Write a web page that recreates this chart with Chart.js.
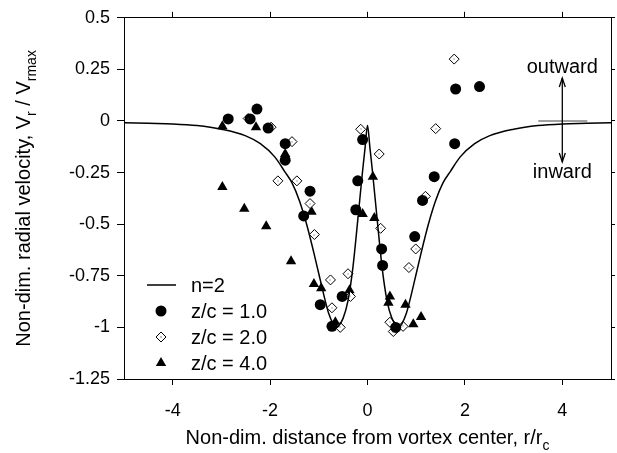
<!DOCTYPE html>
<html><head><meta charset="utf-8">
<script src="https://cdn.jsdelivr.net/npm/chart.js@4"></script>
<style>html,body{margin:0;padding:0;background:#fff;}</style>
</head><body>
<canvas id="c" width="617" height="453"></canvas>
<script>
// ---- data ----
const xTickValues = [-4, -2, 0, 2, 4];
const xTickLabels = ['-4', '-2', '0', '2', '4'];
const yTickValues = [0.5, 0.25, 0, -0.25, -0.5, -0.75, -1, -1.25];
const yTickLabels = ['0.5', '0.25', '0', '-0.25', '-0.5', '-0.75', '-1', '-1.25'];
const seriesNames = ['n=2', 'z/c = 1.0', 'z/c = 2.0', 'z/c = 4.0'];

const modelX = [-5,-4.5,-4,-3.5,-3,-2.5,-2.2,-1.9,-1.7,-1.55,-1.4,-1.25,-1.1,-1.0,-0.9,-0.8,-0.7,-0.65,-0.6,-0.5,-0.4,-0.3,-0.2,-0.1,-0.05,0,
                0.05,0.1,0.2,0.3,0.4,0.5,0.6,0.65,0.7,0.8,0.9,1.0,1.1,1.25,1.4,1.55,1.7,1.9,2.2,2.5,3,3.5,4,4.5,5];
const modelY = [-0.008,-0.011,-0.014,-0.022,-0.04,-0.072,-0.11,-0.175,-0.245,-0.30,-0.385,-0.50,-0.64,-0.74,-0.84,-0.93,-0.985,-1.0,-0.995,-0.955,-0.87,-0.71,-0.48,-0.24,-0.13,-0.02,
                -0.13,-0.24,-0.48,-0.71,-0.87,-0.955,-0.995,-1.0,-0.985,-0.93,-0.84,-0.74,-0.64,-0.50,-0.385,-0.30,-0.245,-0.175,-0.11,-0.072,-0.04,-0.022,-0.014,-0.011,-0.008];

const z1X = [-2.86,-2.41,-2.27,-2.04,-1.69,-1.69,-1.31,-1.18,-0.97,-0.73,-0.52,-0.24,-0.20,-0.10,0.29,0.31,0.58,0.97,1.13,1.37,1.79,1.81,2.30];
const z1Y = [0.01,0.01,0.058,-0.034,-0.11,-0.19,-0.46,-0.34,-0.89,-0.995,-0.85,-0.43,-0.29,-0.09,-0.62,-0.70,-1.0,-0.56,-0.385,-0.27,-0.11,0.155,0.167];

const z2X = [-2.45,-1.98,-1.84,-1.55,-1.45,-1.18,-1.09,-0.76,-0.73,-0.56,-0.40,-0.35,-0.14,0.24,0.27,0.46,0.53,0.73,0.85,0.99,1.19,1.40,1.78];
const z2Y = [0.012,-0.03,-0.29,-0.10,-0.29,-0.40,-0.55,-0.77,-0.905,-1.0,-0.74,-0.85,-0.04,-0.16,-0.52,-0.975,-1.02,-0.995,-0.71,-0.62,-0.365,-0.037,0.30];

const z4X = [-2.98,-2.98,-2.53,-2.29,-2.08,-1.69,-1.57,-1.15,-1.10,-0.95,-0.66,-0.37,-0.10,0.11,0.14,0.43,0.46,0.78,0.94,1.10];
const z4Y = [-0.025,-0.32,-0.425,-0.03,-0.51,-0.16,-0.68,-0.44,-0.79,-0.81,-0.975,-0.82,-0.45,-0.27,-0.47,-0.88,-0.85,-0.89,-0.985,-0.95];

const pts = (xs, ys) => xs.map((x, i) => ({x: x, y: ys[i]}));

const FONT = '"Liberation Sans", Arial, sans-serif';
const tickFont = {family: FONT, size: 18};

function drawRich(ctx, parts, size, subSize, subDrop) {
  // parts: [[text, isSub], ...]; returns nothing, draws from current origin (left, baseline)
  let x = 0;
  for (const [t, sub] of parts) {
    ctx.font = (sub ? subSize : size) + 'px ' + FONT;
    ctx.fillText(t, x, sub ? subDrop : 0);
    x += ctx.measureText(t).width;
  }
}
function richWidth(ctx, parts, size, subSize) {
  let w = 0;
  for (const [t, sub] of parts) {
    ctx.font = (sub ? subSize : size) + 'px ' + FONT;
    w += ctx.measureText(t).width;
  }
  return w;
}

const decor = {
  id: 'decor',
  afterDatasetsDraw(chart) {
    const ctx = chart.ctx;
    const ca = chart.chartArea;
    // small dots in the centres of the open diamonds
    const meta = chart.getDatasetMeta(2);
    ctx.save();
    ctx.fillStyle = '#555';
    meta.data.forEach(p => { ctx.fillRect(Math.round(p.x) - 0.5, Math.round(p.y) - 0.5, 1, 1); });
    ctx.restore();
  },
  afterDraw(chart) {
    const ctx = chart.ctx;
    const ca = chart.chartArea;
    ctx.save();
    ctx.fillStyle = '#000';
    ctx.strokeStyle = '#000';
    ctx.textBaseline = 'alphabetic';
    ctx.textAlign = 'left';

    // x title
    const xParts = [['Non-dim. distance from vortex center, r/r', false], ['c', true]];
    const xw = richWidth(ctx, xParts, 20, 14);
    ctx.save();
    ctx.translate((ca.left + ca.right) / 2 - xw / 2, 444);
    drawRich(ctx, xParts, 20, 14, 6);
    ctx.restore();

    // y title (rotated)
    const yParts = [['Non-dim. radial velocity, V', false], ['r', true], [' / V', false], ['rmax', true]];
    const yw = richWidth(ctx, yParts, 20, 14);
    ctx.save();
    ctx.translate(30, (ca.top + ca.bottom) / 2 + yw / 2);
    ctx.rotate(-Math.PI / 2);
    drawRich(ctx, yParts, 20, 14, 6);
    ctx.restore();

    // legend
    const lx = 161, ly0 = 285, dy = 26, tx = 191;
    ctx.font = '20px ' + FONT;
    ctx.textBaseline = 'middle';
    ctx.lineWidth = 1.5;
    ctx.beginPath(); ctx.moveTo(147, ly0); ctx.lineTo(176, ly0); ctx.stroke();
    ctx.fillText(seriesNames[0], tx, ly0 + 1);
    // circle
    ctx.beginPath(); ctx.arc(lx, ly0 + dy, 5.5, 0, Math.PI * 2); ctx.fill();
    ctx.fillText(seriesNames[1], tx, ly0 + dy + 1);
    // diamond
    ctx.lineWidth = 1;
    ctx.beginPath();
    ctx.moveTo(lx, ly0 + 2 * dy - 5); ctx.lineTo(lx + 5, ly0 + 2 * dy); ctx.lineTo(lx, ly0 + 2 * dy + 5); ctx.lineTo(lx - 5, ly0 + 2 * dy); ctx.closePath();
    ctx.fillStyle = '#fff'; ctx.fill(); ctx.fillStyle = '#000'; ctx.stroke();
    ctx.fillRect(lx - 0.5, ly0 + 2 * dy - 0.5, 1, 1);
    ctx.fillText(seriesNames[2], tx, ly0 + 2 * dy + 1);
    // triangle
    const ty = ly0 + 3 * dy;
    ctx.beginPath();
    ctx.moveTo(lx, ty - 6); ctx.lineTo(lx + 5.2, ty + 3); ctx.lineTo(lx - 5.2, ty + 3); ctx.closePath(); ctx.fill();
    ctx.fillText(seriesNames[3], tx, ty + 1);

    // outward / inward annotation
    const sx = chart.scales.x, sy = chart.scales.y;
    const ax = sx.getPixelForValue(4);
    const y0 = sy.getPixelForValue(0);
    ctx.strokeStyle = '#808080';
    ctx.lineWidth = 1.5;
    ctx.beginPath(); ctx.moveTo(ax - 24, y0); ctx.lineTo(ax + 25, y0); ctx.stroke();
    ctx.strokeStyle = '#000';
    ctx.lineWidth = 1.3;
    const top = 78, bot = 162;
    ctx.beginPath(); ctx.moveTo(ax, top); ctx.lineTo(ax, bot); ctx.stroke();
    ctx.beginPath(); ctx.moveTo(ax - 3, top + 9); ctx.lineTo(ax, top); ctx.lineTo(ax + 3, top + 9); ctx.stroke();
    ctx.beginPath(); ctx.moveTo(ax - 3, bot - 9); ctx.lineTo(ax, bot); ctx.lineTo(ax + 3, bot - 9); ctx.stroke();
    ctx.textAlign = 'center';
    ctx.font = '20px ' + FONT;
    ctx.fillText('outward', ax, 67);
    ctx.fillText('inward', ax, 172);
    ctx.restore();
  }
};

const axisCommon = {
  grid: {drawOnChartArea: false, drawTicks: true, color: '#000', lineWidth: 1},
  border: {display: true, color: '#000', width: 1}
};

new Chart(document.getElementById('c'), {
  type: 'scatter',
  data: {
    datasets: [
      {label: seriesNames[0], data: pts(modelX, modelY), showLine: true, pointRadius: 0, borderColor: '#000', borderWidth: 1.5, cubicInterpolationMode: 'monotone', fill: false},
      {label: seriesNames[1], data: pts(z1X, z1Y), pointStyle: 'circle', pointRadius: 5.5, backgroundColor: '#000', borderColor: '#000', borderWidth: 0},
      {label: seriesNames[2], data: pts(z2X, z2Y), pointStyle: 'rectRot', pointRadius: 5, backgroundColor: '#fff', borderColor: '#000', borderWidth: 1},
      {label: seriesNames[3], data: pts(z4X, z4Y), pointStyle: 'triangle', pointRadius: 6, backgroundColor: '#000', borderColor: '#000', borderWidth: 0}
    ]
  },
  options: {
    responsive: false,
    animation: false,
    devicePixelRatio: 1,
    layout: {padding: 0},
    plugins: {legend: {display: false}, tooltip: {enabled: false}, title: {display: false}},
    scales: {
      x: Object.assign({}, axisCommon, {
        type: 'linear', position: 'bottom', min: -5, max: 5,
        grid: Object.assign({}, axisCommon.grid, {tickLength: 6}),
        afterBuildTicks: s => { s.ticks = xTickValues.map(v => ({value: v})); },
        ticks: {font: tickFont, color: '#000', padding: 15, maxRotation: 0, autoSkip: false,
                callback: v => xTickLabels[xTickValues.indexOf(v)]},
        afterFit: s => { s.height = 74; }
      }),
      x2: Object.assign({}, axisCommon, {
        type: 'linear', position: 'top', axis: 'x', min: -5, max: 5,
        grid: Object.assign({}, axisCommon.grid, {tickLength: 6}),
        afterBuildTicks: s => { s.ticks = xTickValues.map(v => ({value: v})); },
        ticks: {display: false},
        afterFit: s => { s.height = 15; }
      }),
      y: Object.assign({}, axisCommon, {
        type: 'linear', position: 'left', min: -1.25, max: 0.5,
        grid: Object.assign({}, axisCommon.grid, {tickLength: 7}),
        afterBuildTicks: s => { s.ticks = yTickValues.map(v => ({value: v})); },
        ticks: {font: tickFont, color: '#000', padding: 7, autoSkip: false,
                callback: v => yTickLabels[yTickValues.indexOf(v)]},
        afterFit: s => { s.width = 124; }
      }),
      y2: Object.assign({}, axisCommon, {
        type: 'linear', position: 'right', axis: 'y', min: -1.25, max: 0.5,
        grid: Object.assign({}, axisCommon.grid, {tickLength: 4}),
        afterBuildTicks: s => { s.ticks = yTickValues.map(v => ({value: v})); },
        ticks: {display: false},
        afterFit: s => { s.width = 4; }
      })
    }
  },
  plugins: [decor]
});
</script>
</body></html>
